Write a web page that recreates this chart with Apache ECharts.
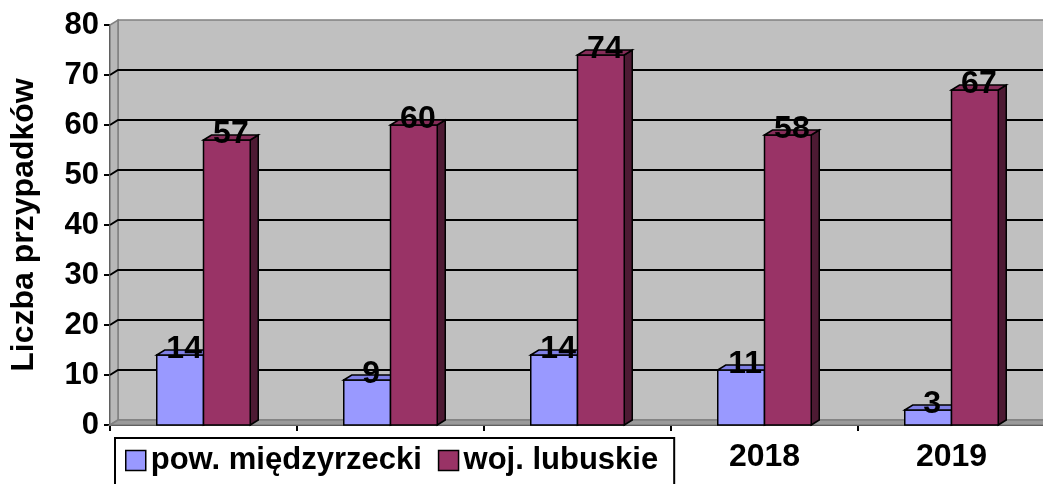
<!DOCTYPE html>
<html>
<head>
<meta charset="utf-8">
<script src="https://cdn.jsdelivr.net/npm/echarts@6/dist/echarts.min.js"></script>
<style>
  html, body { margin: 0; padding: 0; background: #fff; }
  #chart { width: 1043px; height: 484px; }
</style>
</head>
<body>
<div id="chart"></div>
<script>
// dane
const years = ['2015', '2016', '2017', '2018', '2019'];
const powiat = [14, 9, 14, 11, 3];
const wojewodztwo = [57, 60, 74, 58, 67];
const yTicks = [0, 10, 20, 30, 40, 50, 60, 70, 80];

const FONT = 'Arial, "Liberation Sans", sans-serif';
// przesuniecie "glebi" 3D
const DX = 8, DY = -5;

let chart = echarts.init(document.getElementById('chart'));

// tylna sciana, podloga i linie siatki
function renderWalls(params, api) {
  const cs = params.coordSys;
  const x0 = cs.x, x1 = cs.x + cs.width + 20;
  const yTop = cs.y, yBot = cs.y + cs.height;
  const v = api.value(0);
  const y = api.coord([0, v])[1];
  const children = [];
  if (params.dataIndex === 0) {
    children.push({
      type: 'rect',
      shape: { x: x0 + DX, y: yTop + DY, width: x1 - x0, height: yBot - yTop },
      style: { fill: '#C0C0C0', stroke: '#808080', lineWidth: 1.5 }
    });
    children.push({
      type: 'polygon',
      shape: { points: [[x0, yBot], [x0 + DX, yBot + DY], [x0 + DX, yTop + DY], [x0, yTop]] },
      style: { fill: '#B8B8B8', stroke: '#808080', lineWidth: 1.5 }
    });
    children.push({
      type: 'polygon',
      shape: { points: [[x0, yBot], [x1, yBot], [x1 + DX, yBot + DY], [x0 + DX, yBot + DY]] },
      style: { fill: '#9A9A9A', stroke: '#808080', lineWidth: 1.5 }
    });
  }
  if (v > 0 && v < 80) {
    children.push({
      type: 'polyline',
      shape: { points: [[x0, y], [x0 + DX, y + DY], [x1 + DX, y + DY]] },
      style: { stroke: '#000', lineWidth: 2, fill: null }
    });
  }
  return { type: 'group', children: children };
}

// slupek 3D (front, gora, bok) + etykieta
function barRenderer(side, color, topColor, sideColor) {
  return function (params, api) {
    const cat = api.value(0), val = api.value(1);
    const base = api.coord([cat, 0]);
    const top = api.coord([cat, val]);
    const w = api.size([1, 0])[0] * 0.25;
    const xl = side < 0 ? base[0] - w : base[0];
    const xr = xl + w;
    const yb = base[1], yt = top[1];
    const line = { stroke: '#000', lineWidth: 1.5 };
    return {
      type: 'group',
      children: [
        {
          type: 'polygon',
          shape: { points: [[xr, yb], [xr + DX, yb + DY], [xr + DX, yt + DY], [xr, yt]] },
          style: Object.assign({ fill: sideColor }, line)
        },
        {
          type: 'rect',
          shape: { x: xl, y: yt, width: w, height: yb - yt },
          style: Object.assign({ fill: color }, line)
        },
        {
          type: 'polygon',
          shape: { points: [[xl, yt], [xl + DX, yt + DY], [xr + DX, yt + DY], [xr, yt]] },
          style: Object.assign({ fill: topColor }, line)
        },
        {
          type: 'text',
          z2: 10,
          style: {
            text: String(val),
            x: (xl + xr) / 2 + DX / 2,
            y: yt - 6,
            align: 'center',
            verticalAlign: 'middle',
            font: 'bold 32px ' + FONT,
            fill: '#000'
          }
        }
      ]
    };
  };
}

var option = {
  animation: false,
  backgroundColor: '#fff',
  grid: { left: 110, right: -2, top: 25, bottom: 59, outerBoundsMode: 'none', containLabel: false },
  legend: {
    left: 115,
    top: 438,
    z: 10,
    orient: 'horizontal',
    backgroundColor: '#fff',
    borderColor: '#000',
    borderWidth: 2,
    borderRadius: 0,
    padding: [7, 16, 30, 10],
    itemGap: 16,
    itemWidth: 20,
    itemHeight: 20,
    textStyle: { fontFamily: FONT, fontWeight: 'bold', fontSize: 31, color: '#000' },
    data: [
      { name: 'pow. międzyrzecki', icon: 'rect', itemStyle: { color: '#9999FF', borderColor: '#000', borderWidth: 1.5 } },
      { name: 'woj. lubuskie', icon: 'rect', itemStyle: { color: '#993366', borderColor: '#000', borderWidth: 1.5 } }
    ]
  },
  xAxis: {
    type: 'category',
    data: years,
    boundaryGap: true,
    axisLine: { show: true, lineStyle: { color: '#000', width: 2 } },
    axisTick: { show: true, interval: 0, length: 6, lineStyle: { color: '#000', width: 2 } },
    axisLabel: { interval: 0, margin: 16, color: '#000', fontFamily: FONT, fontWeight: 'bold', fontSize: 32 },
    splitLine: { show: false }
  },
  yAxis: {
    type: 'value',
    min: 0,
    max: 80,
    interval: 10,
    name: 'Liczba przypadków',
    nameLocation: 'middle',
    nameRotate: 90,
    nameGap: 70,
    nameTextStyle: { color: '#000', fontFamily: FONT, fontWeight: 'bold', fontSize: 32 },
    axisLine: { show: true, lineStyle: { color: '#000', width: 2 } },
    axisTick: { show: true, length: 6, lineStyle: { color: '#000', width: 2 } },
    axisLabel: { margin: 11, color: '#000', fontFamily: FONT, fontWeight: 'bold', fontSize: 31 },
    splitLine: { show: false }
  },
  series: [
    {
      type: 'custom',
      name: 'walls',
      silent: true,
      z: 1,
      renderItem: renderWalls,
      data: yTicks.map(v => [v]),
      encode: { y: 0 }
    },
    {
      type: 'custom',
      name: 'pow. międzyrzecki',
      z: 2,
      itemStyle: { color: '#9999FF' },
      renderItem: barRenderer(-1, '#9999FF', '#8080E6', '#5C5C99'),
      data: powiat.map((v, i) => [i, v]),
      encode: { x: 0, y: 1 }
    },
    {
      type: 'custom',
      name: 'woj. lubuskie',
      z: 3,
      itemStyle: { color: '#993366' },
      renderItem: barRenderer(1, '#993366', '#862D59', '#4D1A33'),
      data: wojewodztwo.map((v, i) => [i, v]),
      encode: { x: 0, y: 1 }
    }
  ]
};

chart.setOption(option);
</script>
</body>
</html>
